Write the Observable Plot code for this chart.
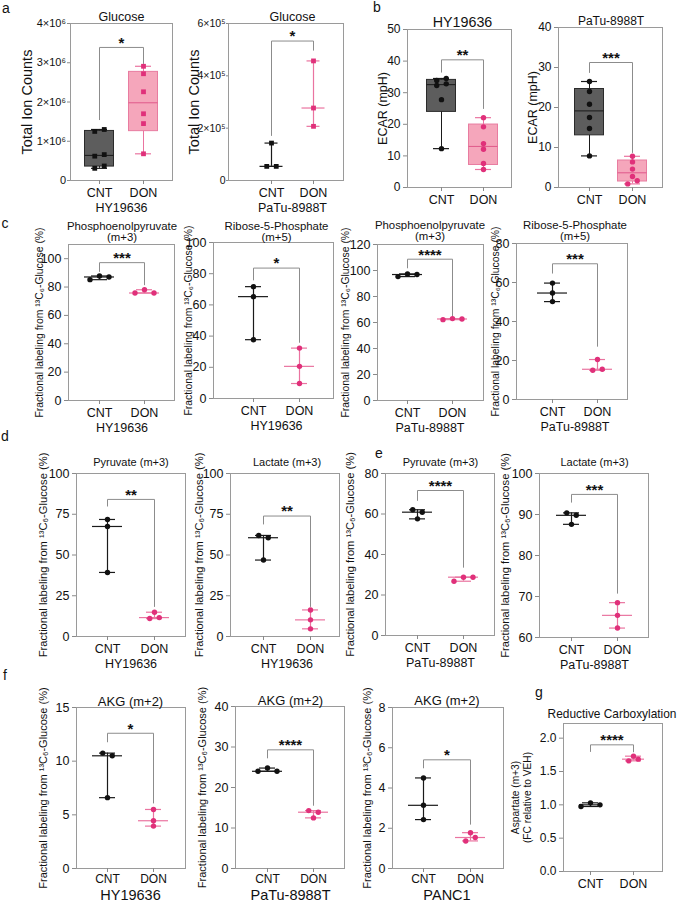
<!DOCTYPE html>
<html><head><meta charset="utf-8">
<script src="https://cdn.jsdelivr.net/npm/d3@7"></script>
<script src="https://cdn.jsdelivr.net/npm/@observablehq/plot@0.6"></script>
<style>
body{margin:0;background:#fff;}
#fig{position:relative;width:677px;height:902px;overflow:hidden;background:#fff;font-family:"Liberation Sans",Arial,sans-serif;}
#fig svg{position:absolute;overflow:visible;}
.letter{position:absolute;font-size:14px;line-height:14px;transform:translate(-50%,-50%);color:#111;}
</style></head><body><div id="fig"></div>
<script>
// ---------- data ----------
const groups = ["CNT", "DON"];
// a: glucose total ion counts
const glucHY_CNT = [1.25e6, 1.30e6, 0.62e6, 0.66e6, 0.31e6, 0.37e6];
const glucHY_DON = [2.91e6, 2.72e6, 2.26e6, 1.70e6, 1.45e6, 0.68e6];
const glucPT_CNT = [1.43e5, 0.54e5, 0.54e5];
const glucPT_DON = [4.57e5, 2.77e5, 2.07e5];
// b: ECAR
const ecarHY_CNT = [33.9, 34.5, 32.3, 32.8, 27.8, 12.3];
const ecarHY_DON = [22.1, 19.2, 13.9, 12.1, 7.6, 5.7];
const ecarPT_CNT = [26.5, 24.0, 20.8, 17.5, 14.75, 7.9];
const ecarPT_DON = [7.8, 6.4, 4.6, 2.75, 0.9, 1.7];
// c: PEP / R5P
const pepHY_CNT = [85.2, 87.8, 87.1];
const pepHY_DON = [75.8, 78.1, 75.8];
const r5pHY_CNT = [71.7, 65.3, 37.7];
const r5pHY_DON = [32.3, 20.6, 9.6];
const pepPT_CNT = [95.3, 97.4, 96.9];
const pepPT_DON = [62.2, 63.0, 62.7];
const r5pPT_CNT = [59.7, 54.6, 50.2];
const r5pPT_DON = [20.5, 15.0, 15.5];
// d, e: pyruvate / lactate
const pyrHY_CNT = [71.8, 67.5, 39.3];
const pyrHY_DON = [14.9, 11.0, 11.6];
const lacHY_CNT = [62.0, 60.6, 46.9];
const lacHY_DON = [16.3, 10.2, 4.7];
const pyrPT_CNT = [62.1, 60.9, 57.6];
const pyrPT_DON = [26.8, 28.8, 28.8];
const lacPT_CNT = [90.4, 89.8, 87.6];
const lacPT_DON = [68.5, 65.4, 62.3];
// f: AKG
const akgHY_CNT = [10.75, 10.5, 6.6];
const akgHY_DON = [5.5, 4.45, 3.95];
const akgPT_CNT = [24.0, 24.8, 24.0];
const akgPT_DON = [14.3, 13.9, 12.5];
const akgPA_CNT = [4.5, 3.14, 2.43];
const akgPA_DON = [1.78, 1.37, 1.54];
// g: reductive carboxylation
const aspCNT = [0.975, 1.03, 1.0];
const aspDON = [1.73, 1.66, 1.685];
// significance brackets: [CNT leg end, top, DON leg end, label]
const sigA1 = [1.55e6, 3.39e6, 2.98e6, "*"];
const sigA2 = [1.72e5, 5.33e5, 4.98e5, "*"];
const sigB1 = [36.5, 40.4, 25, "**"];
const sigB2 = [28.75, 31.25, 8.75, "***"];
const sigC1 = [91, 97.2, 81.6, "***"];
const sigC2 = [76, 83.6, 36, "*"];
const sigC3 = [102, 108.7, 64.3, "****"];
const sigC4 = [64.8, 69.6, 27.3, "***"];
const sigD1 = [80, 84.1, 18.4, "**"];
const sigD2 = [69, 73.9, 18.4, "**"];
const sigE1 = [66.7, 71.6, 33.7, "****"];
const sigE2 = [93.0, 94.9, 70.8, "***"];
const sigF1 = [11.8, 12.6, 6.1, "*"];
const sigF2 = [27.3, 29.3, 15.6, "****"];
const sigF3 = [5.0, 5.4, 2.2, "*"];
const sigG = [1.8, 1.9, 1.795, "****"];
const fracLabel = "Fractional labeling from ¹³C₆-Glucose (%)";

// ---------- helpers ----------
const FONT = '"Liberation Sans", Arial, sans-serif';
const COL = {line:["#1a1a1a","#ea74a0"], dot:["#111111","#e0307a"], boxFill:["#5d5d5d","#f5a6bb"], boxStroke:["#2b2b2b","#e87ca0"], med:["#1a1a1a","#e0588a"]};
function pq(vals, p){ // Prism-style (n+1)p quantile
  const s=[...vals].sort((a,b)=>a-b), n=s.length, h=(n+1)*p;
  if(h<=1) return s[0]; if(h>=n) return s[n-1];
  const lo=Math.floor(h); return s[lo-1]+(h-lo)*(s[lo]-s[lo-1]);
}
function jitter(vals, pxPerUnit, gap=4.6, step=9.5){
  const idx=vals.map((v,i)=>i).sort((a,b)=>vals[a]-vals[b]);
  const clusters=[]; let cur=null;
  for(const i of idx){
    if(cur && (vals[i]-vals[cur[0]])*pxPerUnit < gap) cur.push(i);
    else { cur=[i]; clusters.push(cur); }
  }
  const off=new Array(vals.length).fill(0);
  for(const c of clusters){ c.sort((a,b)=>a-b); c.forEach((i,k)=>off[i]=(k-(c.length-1)/2)*step); }
  return off;
}
const sci = e => v => v===0 ? "0" : `${Math.round(v/Math.pow(10,e))}×10${e===6?"⁶":"⁵"}`;

function makePanel(p){
  const ml=70, mt=45, mr=14, mb=45;
  const W=p.R-p.L, H=p.B-p.T;
  const unit=p.cx[1]-p.cx[0];
  const xdom=[(p.L-p.cx[0])/unit, 1+(p.R-p.cx[1])/unit];
  const pxPerY=H/(p.ydom[1]-p.ydom[0]);
  const cap=p.capW ?? 8, medW=p.medW ?? 15, bw=p.boxW ?? 14.5;
  const marks=[Plot.frame({stroke:"#9a9a9a"})];
  const series=[p.cnt, p.don];
  const layers={box:[],med:[],wh:[],cap:[],dot:[]};
  series.forEach((vals,g)=>{
    const off=jitter(vals,pxPerY);
    const dots=vals.map((v,j)=>({x:g+off[j]/unit, y:v}));
    const mn=d3.min(vals), mx=d3.max(vals), md=pq(vals,0.5);
    if(p.kind==="box"){
      const q1=pq(vals,0.25), q3=pq(vals,0.75);
      layers.box.push(Plot.rect([{x1:g-bw/unit,x2:g+bw/unit,y1:q1,y2:q3}],{x1:"x1",x2:"x2",y1:"y1",y2:"y2",fill:COL.boxFill[g],stroke:COL.boxStroke[g],strokeWidth:1}));
      layers.med.push(Plot.ruleY([md],{x1:g-bw/unit,x2:g+bw/unit,stroke:COL.med[g],strokeWidth:1}));
      layers.wh.push(Plot.ruleX([{x:g,y1:mn,y2:q1},{x:g,y1:q3,y2:mx}],{x:"x",y1:"y1",y2:"y2",stroke:COL.line[g],strokeWidth:1}));
    } else {
      layers.med.push(Plot.ruleY([md],{x1:g-medW/unit,x2:g+medW/unit,stroke:COL.line[g],strokeWidth:1.2}));
      layers.wh.push(Plot.ruleX([{x:g,y1:mn,y2:mx}],{x:"x",y1:"y1",y2:"y2",stroke:COL.line[g],strokeWidth:1.2}));
    }
    layers.cap.push(Plot.ruleY([mn,mx],{x1:g-cap/unit,x2:g+cap/unit,stroke:COL.line[g],strokeWidth:1.2}));
    layers.dot.push(Plot.dot(dots,{x:"x",y:"y",fill:COL.dot[g],r:2.7,symbol:p.symbol||"circle"}));
  });
  marks.push(...layers.box,...layers.med,...layers.wh,...layers.cap);
  const s=p.sig;
  marks.push(Plot.line([{x:0,y:s[0]},{x:0,y:s[1]},{x:1,y:s[1]},{x:1,y:s[2]}],{x:"x",y:"y",stroke:"#8c8c8c",strokeWidth:1}));
  marks.push(Plot.text([s[3]],{x:()=>0.5,y:()=>s[1],text:d=>d,dy:-4.5,fontSize:15,fontWeight:"bold",fill:"#111"}));
  marks.push(...layers.dot);
  marks.push(Plot.axisY({ticks:p.yticks,tickFormat:p.yfmt,tickSize:p.ytickSize ?? 4,tickPadding:p.ytickPad ?? 3,fontSize:p.tickFs,stroke:"#8a8a8a",fill:"#111",label:null}));
  marks.push(Plot.axisX({ticks:[0,1],tickFormat:i=>groups[i],tickSize:4,tickPadding:p.catPad ?? 4,fontSize:p.catFs ?? 12.5,stroke:"#8a8a8a",fill:"#111",label:null}));
  marks.push(Plot.text([p.title],{x:()=>0.5,frameAnchor:"top",lineAnchor:"middle",dy:p.titleY-p.T,fontSize:p.titleFs,lineHeight:p.titleLH ?? 1,text:d=>d,fill:"#111",textAnchor:"middle"}));
  marks.push(Plot.text([p.ylabel],{frameAnchor:"left",dx:p.ylabX-p.L,rotate:-90,textAnchor:"middle",lineAnchor:"middle",fontSize:p.ylabFs,lineHeight:p.ylabLH ?? 1,text:d=>d,fill:"#111"}));
  if(p.sub) marks.push(Plot.text([p.sub],{x:()=>0.5,frameAnchor:"bottom",lineAnchor:"middle",dy:p.subDy ?? 27,fontSize:p.subFs ?? 12.5,text:d=>d,fill:"#111",textAnchor:"middle"}));
  const svg=Plot.plot({
    width:W+ml+mr, height:H+mt+mb, marginLeft:ml, marginTop:mt, marginRight:mr, marginBottom:mb,
    x:{type:"linear",domain:xdom}, y:{type:"linear",domain:p.ydom},
    style:{fontFamily:FONT,background:"transparent",overflow:"visible",color:"#111",maxWidth:"none"},
    marks
  });
  svg.style.left=(p.L-ml)+"px"; svg.style.top=(p.T-mt)+"px";
  return svg;
}

const range = (a,b,st)=>d3.range(a,b+st/2,st);
const panels=[
  {L:70,T:23,R:172,B:180,cx:[99,143],ydom:[0,4e6],yticks:range(0,4e6,1e6),yfmt:sci(6),tickFs:11,ytickSize:3,ytickPad:1.5,kind:"box",symbol:"square",cnt:glucHY_CNT,don:glucHY_DON,sig:sigA1,
   title:"Glucose",titleY:16,titleFs:12.5,ylabel:"Total Ion Counts",ylabX:27,ylabFs:14.5,sub:"HY19636"},
  {L:228,T:23,R:343,B:180,cx:[271,313],ydom:[0,6e5],yticks:range(0,6e5,2e5),yfmt:sci(5),tickFs:10.5,ytickSize:2,ytickPad:1,kind:"range",symbol:"square",capW:6.5,medW:11.5,cnt:glucPT_CNT,don:glucPT_DON,sig:sigA2,
   title:"Glucose",titleY:16,titleFs:12.5,ylabel:"Total Ion Counts",ylabX:193.5,ylabFs:14.5,sub:"PaTu-8988T"},
  {L:407,T:29,R:511,B:187,cx:[441,483],ydom:[0,50],yticks:range(0,50,10),tickFs:12,kind:"box",cnt:ecarHY_CNT,don:ecarHY_DON,sig:sigB1,
   title:"HY19636",titleY:22,titleFs:14.3,ylabel:"ECAR (mpH)",ylabX:382,ylabFs:12.5},
  {L:558,T:27,R:662,B:187,cx:[589,632],ydom:[0,40],yticks:range(0,40,10),tickFs:12,kind:"box",cnt:ecarPT_CNT,don:ecarPT_DON,sig:sigB2,
   title:"PaTu-8988T",titleY:21,titleFs:12,ylabel:"ECAR (mpH)",ylabX:532,ylabFs:12.5},
  {L:68,T:244,R:174,B:400,cx:[99,144],ydom:[0,110],yticks:range(0,100,20),tickFs:12.5,kind:"range",cnt:pepHY_CNT,don:pepHY_DON,sig:sigC1,
   title:"Phosphoenolpyruvate\n(m+3)",titleY:231.5,titleFs:11.4,titleLH:0.97,ylabel:fracLabel,ylabX:39,ylabFs:10.4,sub:"HY19636"},
  {L:213,T:242,R:333,B:398,cx:[253,299],ydom:[0,100],yticks:range(0,100,20),tickFs:12.5,kind:"range",cnt:r5pHY_CNT,don:r5pHY_DON,sig:sigC2,
   title:"Ribose-5-Phosphate\n(m+5)",titleY:231,titleFs:11.4,titleLH:0.97,ylabel:fracLabel,ylabX:188,ylabFs:10.4,sub:"HY19636"},
  {L:377,T:244,R:483,B:400,cx:[407,452],ydom:[0,120],yticks:range(0,120,20),tickFs:12.5,kind:"range",cnt:pepPT_CNT,don:pepPT_DON,sig:sigC3,
   title:"Phosphoenolpyruvate\n(m+3)",titleY:230.5,titleFs:11.4,titleLH:0.97,ylabel:fracLabel,ylabX:345,ylabFs:10.4,sub:"PaTu-8988T"},
  {L:516,T:243,R:627,B:399,cx:[552,597],ydom:[0,80],yticks:range(0,80,20),tickFs:12.5,kind:"range",cnt:r5pPT_CNT,don:r5pPT_DON,sig:sigC4,
   title:"Ribose-5-Phosphate\n(m+5)",titleY:230,titleFs:11.4,titleLH:0.97,ylabel:fracLabel,ylabX:495,ylabFs:10.4,sub:"PaTu-8988T"},
  {L:76,T:473,R:185,B:636,cx:[107,154],ydom:[0,100],yticks:range(0,100,25),tickFs:12.5,kind:"range",cnt:pyrHY_CNT,don:pyrHY_DON,sig:sigD1,
   title:"Pyruvate (m+3)",titleY:462,titleFs:11,ylabel:fracLabel,ylabX:43,ylabFs:11.2,sub:"HY19636"},
  {L:230,T:473,R:339,B:636,cx:[263,310],ydom:[0,100],yticks:range(0,100,25),tickFs:12.5,kind:"range",cnt:lacHY_CNT,don:lacHY_DON,sig:sigD2,
   title:"Lactate (m+3)",titleY:462,titleFs:11,ylabel:fracLabel,ylabX:199,ylabFs:11.2,sub:"HY19636"},
  {L:385,T:473,R:494,B:635,cx:[417,463],ydom:[0,80],yticks:range(0,80,20),tickFs:12.5,kind:"range",cnt:pyrPT_CNT,don:pyrPT_DON,sig:sigE1,
   title:"Pyruvate (m+3)",titleY:462,titleFs:11,ylabel:fracLabel,ylabX:350,ylabFs:11.2,sub:"PaTu-8988T"},
  {L:539,T:473,R:648,B:637,cx:[571,617],ydom:[60,100],yticks:range(60,100,10),tickFs:12.5,kind:"range",cnt:lacPT_CNT,don:lacPT_DON,sig:sigE2,
   title:"Lactate (m+3)",titleY:462,titleFs:11,ylabel:fracLabel,ylabX:505,ylabFs:11.2,sub:"PaTu-8988T"},
  {L:76,T:707,R:185,B:868,cx:[107,153],ydom:[0,15],yticks:range(0,15,5),tickFs:12.5,kind:"range",cnt:akgHY_CNT,don:akgHY_DON,sig:sigF1,
   title:"AKG (m+2)",titleY:701,titleFs:13,ylabel:fracLabel,ylabX:43,ylabFs:11,sub:"HY19636",subFs:14.5,subDy:27,catPad:2,catFs:12},
  {L:235,T:706,R:344,B:868,cx:[267,313],ydom:[0,40],yticks:range(0,40,10),tickFs:12.5,kind:"range",cnt:akgPT_CNT,don:akgPT_DON,sig:sigF2,
   title:"AKG (m+2)",titleY:700,titleFs:13,ylabel:fracLabel,ylabX:202,ylabFs:11,sub:"PaTu-8988T",subFs:14.5,subDy:27,catPad:2,catFs:12},
  {L:392,T:707,R:503,B:868,cx:[423,470],ydom:[0,8],yticks:range(0,8,2),tickFs:12.5,kind:"range",cnt:akgPA_CNT,don:akgPA_DON,sig:sigF3,
   title:"AKG (m+2)",titleY:700,titleFs:13,ylabel:fracLabel,ylabX:367,ylabFs:11,sub:"PANC1",subFs:14.5,subDy:27,catPad:2,catFs:12},
  {L:563,T:723,R:662,B:871,cx:[590,633],ydom:[0,2.22],yticks:range(0,2,0.5),yfmt:d3.format(".1f"),tickFs:12,kind:"range",medW:11,cap:7,cnt:aspCNT,don:aspDON,sig:sigG,
   title:"Reductive Carboxylation",titleY:714,titleFs:11.9,ylabel:"Aspartate (m+3)\n(FC relative to VEH)",ylabX:521,ylabFs:10.2,ylabLH:1.15}
];
const fig=document.getElementById("fig");
for(const p of panels) fig.appendChild(makePanel(p));
const letters=[["a",6,8],["b",377,7],["c",5,223],["d",5,436],["e",379,453],["f",5,675],["g",539,692]];
for(const [t,x,y] of letters){const d=document.createElement("div");d.className="letter";d.textContent=t;d.style.left=x+"px";d.style.top=y+"px";fig.appendChild(d);}
</script></body></html>
